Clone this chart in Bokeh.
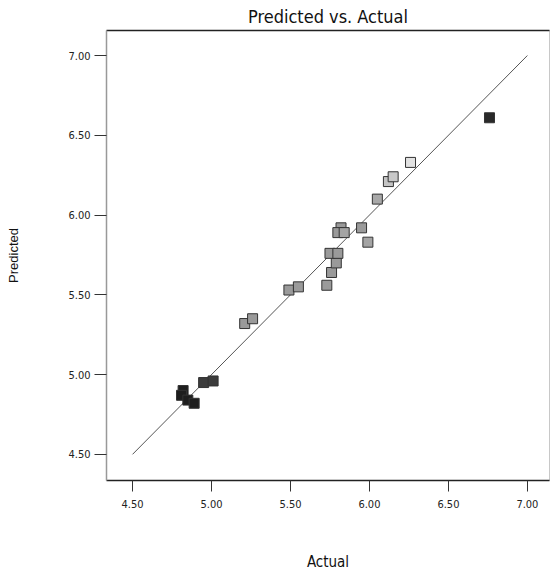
from bokeh.plotting import figure
from bokeh.models import Range1d, FixedTicker, LinearAxis, NumeralTickFormatter, ColumnDataSource
from bokeh.embed import file_html
from bokeh.resources import INLINE

# ---- data ----
actual = [4.82, 4.81, 4.85, 4.89, 4.95, 5.01, 5.21, 5.26, 5.49, 5.55, 5.73, 5.76,
          5.79, 5.75, 5.80, 5.82, 5.80, 5.84, 5.95, 5.99, 6.05, 6.12, 6.15, 6.26, 6.76]
predicted = [4.90, 4.87, 4.84, 4.82, 4.95, 4.96, 5.32, 5.35, 5.53, 5.55, 5.56, 5.64,
             5.70, 5.76, 5.76, 5.92, 5.89, 5.89, 5.92, 5.83, 6.10, 6.21, 6.24, 6.33, 6.61]
ref_line = [4.50, 7.00]
tick_values = [4.50, 5.00, 5.50, 6.00, 6.50, 7.00]

# ---- styles ----
point_colors = ["#1e1e1e", "#1e1e1e", "#1e1e1e", "#1e1e1e", "#3c3c3c", "#3c3c3c",
                "#9a9a9a", "#9a9a9a", "#9a9a9a", "#9a9a9a", "#9a9a9a", "#9a9a9a",
                "#9a9a9a", "#9a9a9a", "#9a9a9a", "#9a9a9a", "#9a9a9a", "#a4a4a4",
                "#9a9a9a", "#a4a4a4", "#a8a8a8", "#c4c4c4", "#c8c8c8", "#e2e2e2", "#2a2a2a"]

NARROW = "'DejaVu Sans Condensed', 'Liberation Sans Narrow', 'Liberation Sans', sans-serif"

p = figure(width=551, height=577, output_backend="svg", toolbar_location=None,
           x_range=Range1d(4.335, 7.14), y_range=Range1d(4.336, 7.157),
           min_border_left=106, min_border_right=2, min_border_top=0, min_border_bottom=97,
           title="Predicted vs. Actual")

p.title.align = "center"
p.title.text_font = NARROW
p.title.text_font_size = "18px"
p.title.text_font_style = "normal"
p.title.text_color = "#111111"
p.title.standoff = 7
p.title.offset = 0

p.grid.visible = False
p.outline_line_color = "#c8c8c8"
p.background_fill_color = "white"
p.border_fill_color = "white"

for ax in (p.xaxis[0], p.yaxis[0]):
    ax.ticker = FixedTicker(ticks=tick_values)
    ax.formatter = NumeralTickFormatter(format="0.00")
    ax.minor_tick_line_color = None
    ax.major_tick_in = 0
    ax.major_label_text_font = NARROW
    ax.major_label_text_font_size = "11px"
    ax.major_label_text_color = "#222222"
    ax.major_tick_line_color = "#333333"

p.xaxis.major_tick_out = 11
p.xaxis.major_label_standoff = 8
p.xaxis.axis_line_color = "#222222"
p.xaxis.axis_line_width = 1.5
p.xaxis.axis_label = "Actual"
p.xaxis.axis_label_text_font = NARROW
p.xaxis.axis_label_text_font_size = "15px"
p.xaxis.axis_label_text_font_style = "normal"
p.xaxis.axis_label_text_color = "#111111"
p.xaxis.axis_label_standoff = 42

p.yaxis.major_tick_out = 12
p.yaxis.major_label_standoff = 4
p.yaxis.axis_line_color = "#999999"
p.yaxis.axis_line_width = 1.5
p.yaxis.axis_label = "Predicted"
p.yaxis.axis_label_text_font = "Liberation Sans"
p.yaxis.axis_label_text_font_size = "13px"
p.yaxis.axis_label_text_font_style = "normal"
p.yaxis.axis_label_text_color = "#111111"
p.yaxis.axis_label_standoff = 44

top_axis = LinearAxis(ticker=FixedTicker(ticks=[]), major_label_text_font_size="0px",
                      major_label_standoff=0,
                      major_tick_out=0, major_tick_in=0, minor_tick_out=0, minor_tick_in=0,
                      axis_line_color="#222222", axis_line_width=1.5)
p.add_layout(top_axis, "above")

p.line(ref_line, ref_line, line_color="#555555", line_width=1)

src = ColumnDataSource(dict(x=actual, y=predicted, c=point_colors))
p.scatter("x", "y", source=src, marker="square", size=10, fill_color="c",
          line_color="#333333", line_width=1)

open("out.html", "w").write(file_html(p, INLINE))
